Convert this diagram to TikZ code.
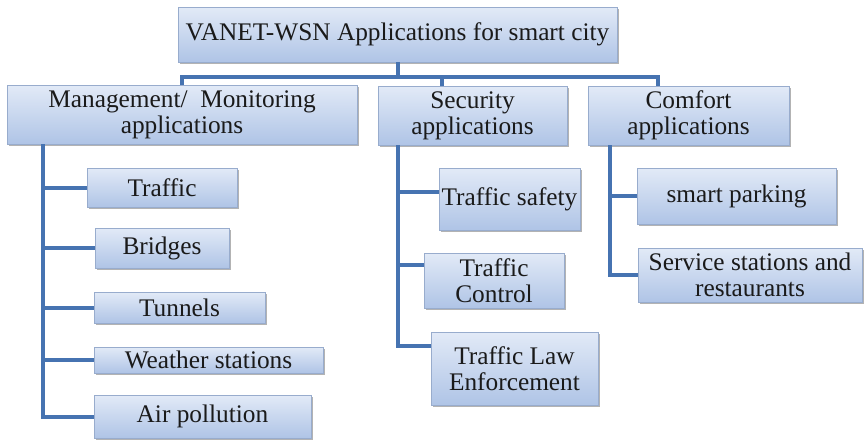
\documentclass[tikz,border=0pt]{standalone}
\usepackage{fontspec}
\setmainfont{Liberation Serif}
\usepackage{tikz}
\usetikzlibrary{calc, shadows, positioning}
\definecolor{boxtop}{HTML}{E2EAF7}
\definecolor{boxbottom}{HTML}{AFC4E6}
\definecolor{boxline}{HTML}{98ACCD}
\definecolor{linkblue}{HTML}{4673B1}
\definecolor{txt}{HTML}{1A1A1A}

\begin{document}
\begin{tikzpicture}[x=0.75pt,y=-0.75pt,semithick,
        every node/.style={font=\rmfamily\fontsize{19}{19.5}\selectfont,text=txt},
        boxsize/.style 2 args={minimum width=#1*0.75pt,minimum height=#2*0.75pt}]
        \tikzstyle{appbox}=[draw=boxline,thin,top color=boxtop,bottom color=boxbottom,align=center,inner sep=0pt,
          drop shadow={shadow xshift=1.2pt,shadow yshift=-1.8pt,fill=black!50,opacity=0.6}]
        \tikzstyle{link}=[draw=linkblue,line width=3pt]
        \useasboundingbox (0,0) rectangle (864,440);

        \node[appbox,boxsize={439}{55}](root) at (397.5,34.5){VANET-WSN Applications for smart city};
        \node[appbox,boxsize={350}{59}](mgmt) at (182,114.5){Management/\ \ Monitoring\\applications};
        \node[appbox,boxsize={189}{59}](sec) at (472.5,115.5){Security\\applications};
        \node[appbox,boxsize={201}{59}](comf) at (688.5,115.5){Comfort\\applications};

        \node[appbox,boxsize={150}{39}](traffic) at (162,187.5){Traffic};
        \node[appbox,boxsize={134}{40}](bridges) at (162,248){Bridges};
        \node[appbox,boxsize={171}{31}](tunnels) at (179.5,307.5){Tunnels};
        \node[appbox,boxsize={229}{26}](weather) at (208.5,360){Weather stations};
        \node[appbox,boxsize={217}{43}](air) at (202.5,416.5){Air pollution};

        \node[appbox,boxsize={141}{62}](safety) at (509.5,199){Traffic safety};
        \node[appbox,boxsize={140}{55}](control) at (494,280.5){Traffic\\Control};
        \node[appbox,boxsize={167}{73}](law) at (514.5,368.5){Traffic Law\\Enforcement};

        \node[appbox,boxsize={199}{56}](parking) at (736.5,196){smart parking};
        \node[appbox,boxsize={224}{54}](service) at (750,275){Service stations and\\restaurants};

        \coordinate (busL) at (182,77);
        \coordinate (busS) at (442,77);
        \coordinate (busR) at (658,77);
        \draw[link] (root.south) -- (root.south |- busL);
        \draw[link] (mgmt.north) -- (busL) -- (busR) -- (busR |- comf.north);
        \draw[link] (busS) -- (busS |- sec.north);

        \coordinate (mtrunk) at (43,0);
        \draw[link] (mtrunk |- mgmt.south) |- (air.west);
        \foreach \c in {traffic,bridges,tunnels,weather}
          \draw[link] (mtrunk |- \c.west) -- (\c.west);

        \coordinate (strunk) at (398,0);
        \coordinate (safetyin) at ($(safety.west)+(0,-7)$);
        \coordinate (controlin) at ($(control.west)+(0,-16)$);
        \coordinate (lawin) at ($(law.west)+(0,-23)$);
        \draw[link] (strunk |- sec.south) |- (lawin);
        \draw[link] (strunk |- safetyin) -- (safetyin);
        \draw[link] (strunk |- controlin) -- (controlin);

        \coordinate (ctrunk) at (610,0);
        \draw[link] (ctrunk |- comf.south) |- (service.west);
        \draw[link] (ctrunk |- parking.west) -- (parking.west);
      \end{tikzpicture}
\end{document}
